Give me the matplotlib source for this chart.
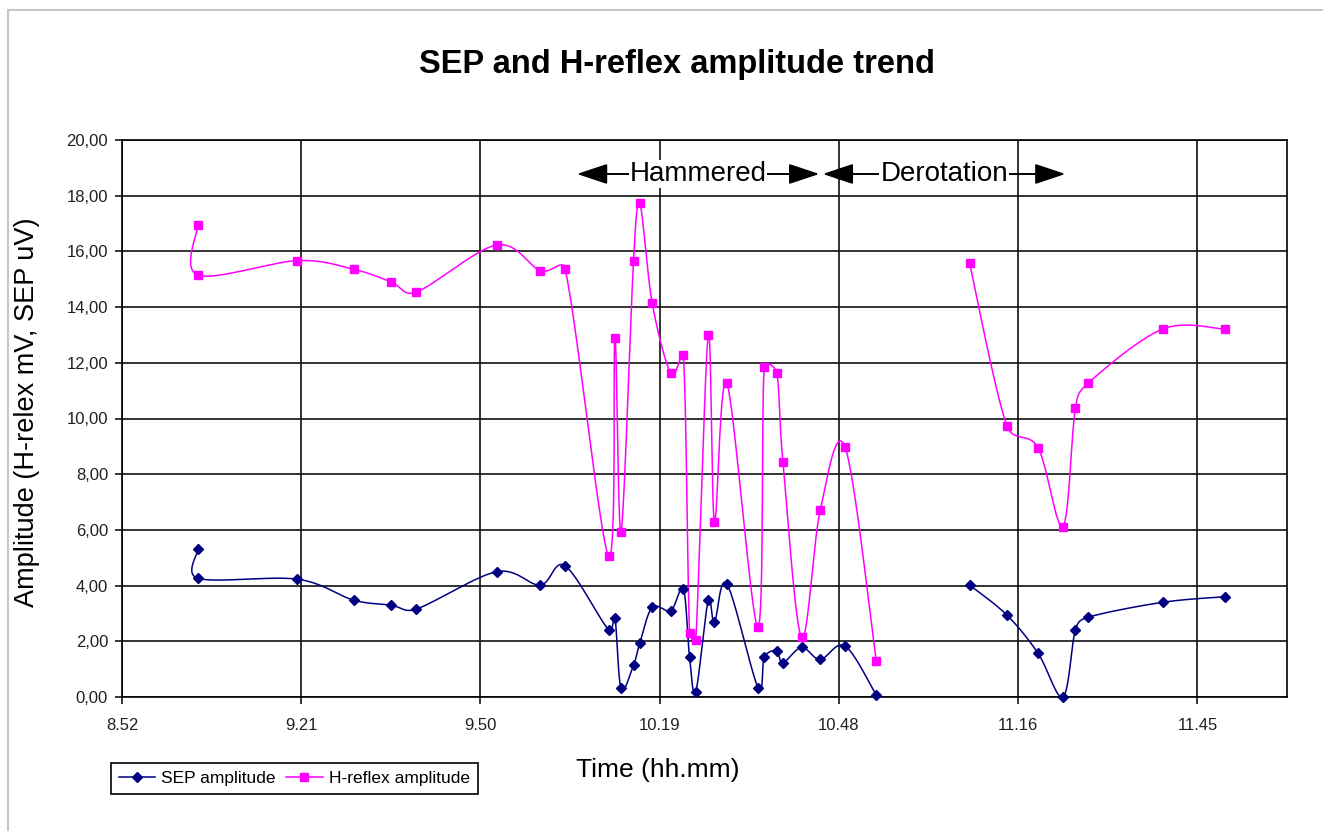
import numpy as np
import matplotlib
matplotlib.use("Agg")
import matplotlib.pyplot as plt
from matplotlib.lines import Line2D

plt.rcParams['font.family'] = ['Liberation Sans', 'DejaVu Sans']

# Sample times (hh:mm). None = pause in the recording (line is broken there)
times = ["9:05", "9:05", "9:21", "9:30", "9:36", "9:40", "9:53", "10:00", "10:04",
         "10:11", "10:12", "10:13", "10:15", "10:16", "10:18", "10:21", "10:23",
         "10:24", "10:25", "10:27", "10:28", "10:30", "10:35", "10:36", "10:38",
         "10:39", "10:42", "10:45", "10:49", "10:54",
         None,
         "11:09", "11:15", "11:20", "11:24", "11:26", "11:28", "11:40", "11:50"]

# SEP amplitude (uV)
sep_amp = [5.30, 4.26, 4.23, 3.48, 3.30, 3.15, 4.50, 4.02, 4.71,
           2.41, 2.85, 0.31, 1.15, 1.93, 3.22, 3.10, 3.88,
           1.43, 0.19, 3.48, 2.68, 4.06, 0.34, 1.42, 1.66,
           1.23, 1.78, 1.35, 1.83, 0.07,
           None,
           4.02, 2.94, 1.57, 0.00, 2.41, 2.86, 3.40, 3.60]

# H-reflex amplitude (mV)
href_amp = [16.95, 15.15, 15.67, 15.36, 14.91, 14.53, 16.23, 15.31, 15.36,
            5.06, 12.90, 5.94, 15.67, 17.73, 14.14, 11.62, 12.28,
            2.29, 2.05, 13.00, 6.30, 11.26, 2.52, 11.86, 11.65,
            8.45, 2.14, 6.71, 8.97, 1.30,
            None,
            15.57, 9.74, 8.95, 6.12, 10.37, 11.26, 13.21, 13.21]

# Excel time axis: day fractions and the labels it printed
x_ticks_day = [0.37, 0.39, 0.41, 0.43, 0.45, 0.47, 0.49]
x_tick_labels = ["8.52", "9.21", "9.50", "10.19", "10.48", "11.16", "11.45"]
x_max_day = 0.50
y_ticks = [0, 2, 4, 6, 8, 10, 12, 14, 16, 18, 20]

# Phase annotations: (label, start, end)
phases = [("Hammered", "10:05.9", "10:44.85"),
          ("Derotation", "10:45.4", "11:24.4")]

SEP_COLOR = "#000080"
HREF_COLOR = "#FF00FF"


def to_min(s):
    h, m = s.split(":")
    return int(h) * 60 + float(m)


def blocks(ts, vals):
    # split the series where the recording pauses
    out, cur = [], []
    for t, v in zip(ts, vals):
        if t is None:
            if cur:
                out.append(cur)
            cur = []
        else:
            cur.append((to_min(t), v))
    if cur:
        out.append(cur)
    return out


def limit(vec, maxlen):
    n = np.hypot(*vec)
    if n > maxlen and n > 0:
        return vec * (maxlen / n)
    return vec


def smooth(pts, sx, sy, n=30):
    # Excel-like smoothed line: cubic bezier through the points,
    # control points from neighbours (computed in screen units),
    # shortened on short segments so it does not overshoot much
    P = np.array([[x * sx, y * sy] for x, y in pts])
    if len(P) < 2:
        return P[:, 0] / sx, P[:, 1] / sy
    t = np.linspace(0, 1, n)[1:, None]
    res = [P[0]]
    for i in range(len(P) - 1):
        pm = P[i - 1] if i > 0 else P[i]
        pn = P[i + 2] if i + 2 < len(P) else P[i + 1]
        seg_len = np.hypot(*(P[i + 1] - P[i]))
        c1 = P[i] + limit((P[i + 1] - pm) / 6, 0.5 * seg_len)
        c2 = P[i + 1] - limit((pn - P[i]) / 6, 0.5 * seg_len)
        seg = ((1 - t) ** 3 * P[i] + 3 * (1 - t) ** 2 * t * c1
               + 3 * (1 - t) * t ** 2 * c2 + t ** 3 * P[i + 1])
        res.extend(seg)
    res = np.array(res)
    return res[:, 0] / sx, res[:, 1] / sy


W, H = 1323, 831
fig = plt.figure(figsize=(W / 100, H / 100), dpi=100)
ax_l, ax_r, ax_t, ax_b = 122, 1287, 140, 697
ax = fig.add_axes([ax_l / W, 1 - ax_b / H, (ax_r - ax_l) / W, (ax_b - ax_t) / H])

x0 = x_ticks_day[0] * 1440
x1 = x_max_day * 1440
ax.set_xlim(x0, x1)
ax.set_ylim(0, 20)

# pixels per unit, used so the smoothing works in screen space
sx = (ax_r - ax_l) / (x1 - x0)
sy = (ax_b - ax_t) / 20.0

for vals, color, marker, ms in [(sep_amp, SEP_COLOR, "D", 4.6),
                                 (href_amp, HREF_COLOR, "s", 5.8)]:
    for blk in blocks(times, vals):
        xs, ys = smooth(blk, sx, sy)
        ax.plot(xs, ys, color=color, lw=1.1, zorder=3)
        ax.plot([p[0] for p in blk], [p[1] for p in blk], ls="none",
                marker=marker, ms=ms, color=color, zorder=4, clip_on=False)

ax.set_xticks([d * 1440 for d in x_ticks_day])
ax.set_xticklabels(x_tick_labels)
ax.set_yticks(y_ticks)
ax.set_yticklabels([f"{v:.2f}".replace(".", ",") for v in y_ticks])
ax.tick_params(axis="both", direction="out", length=5, width=1.1,
               labelsize=12, colors="black", labelcolor="#202020")
ax.tick_params(axis="y", pad=5)
ax.tick_params(axis="x", pad=10)
ax.grid(True, color="#111111", lw=1.2)
ax.set_axisbelow(True)
for sp in ax.spines.values():
    sp.set_color("black")
    sp.set_linewidth(1.2)

# phase arrows
arrow_y = 18.78
for label, a, b in phases:
    xa, xb = to_min(a), to_min(b)
    ax.annotate("", xy=(xa, arrow_y), xytext=(xb, arrow_y),
                arrowprops=dict(arrowstyle="<|-|>,head_length=1.35,head_width=0.45",
                                mutation_scale=14, lw=1.4, color="black",
                                shrinkA=0, shrinkB=0),
                annotation_clip=False, zorder=5)
    ax.text((xa + xb) / 2, arrow_y, label, ha="center", va="center",
            fontsize=20, zorder=6,
            bbox=dict(facecolor="white", edgecolor="none", pad=0.5))

# texts
fig.text(677 / W, 1 - 64 / H, "SEP and H-reflex amplitude trend",
         ha="center", va="center", fontsize=23.5, fontweight="bold")
fig.text(27 / W, 1 - 412 / H, "Amplitude (H-relex mV, SEP uV)",
         ha="center", va="center", rotation=90, fontsize=19.5)
fig.text(658 / W, 1 - 770 / H, "Time (hh.mm)",
         ha="center", va="center", fontsize=19)

# legend
handles = [Line2D([], [], color=SEP_COLOR, marker="D", ms=4.6, lw=1.1),
           Line2D([], [], color=HREF_COLOR, marker="s", ms=5.8, lw=1.1)]
leg = fig.legend(handles, ["SEP amplitude", "H-reflex amplitude"],
                 loc="lower left", bbox_to_anchor=(111 / W, 1 - 794 / H),
                 ncol=2, fontsize=12.5, numpoints=1, handlelength=2.1,
                 handletextpad=0.35, columnspacing=0.6, borderpad=0.45,
                 borderaxespad=0, fancybox=False, framealpha=1)
leg.get_frame().set_edgecolor("black")
leg.get_frame().set_linewidth(1.2)

# chart area border (partly outside the picture)
fig.add_artist(Line2D([8 / W, 1], [1 - 10 / H, 1 - 10 / H], color="#c8c8c8",
                      lw=1.5, transform=fig.transFigure))
fig.add_artist(Line2D([8 / W, 8 / W], [0, 1 - 10 / H], color="#c8c8c8",
                      lw=1.5, transform=fig.transFigure))

fig.savefig("out.png", dpi=100)
